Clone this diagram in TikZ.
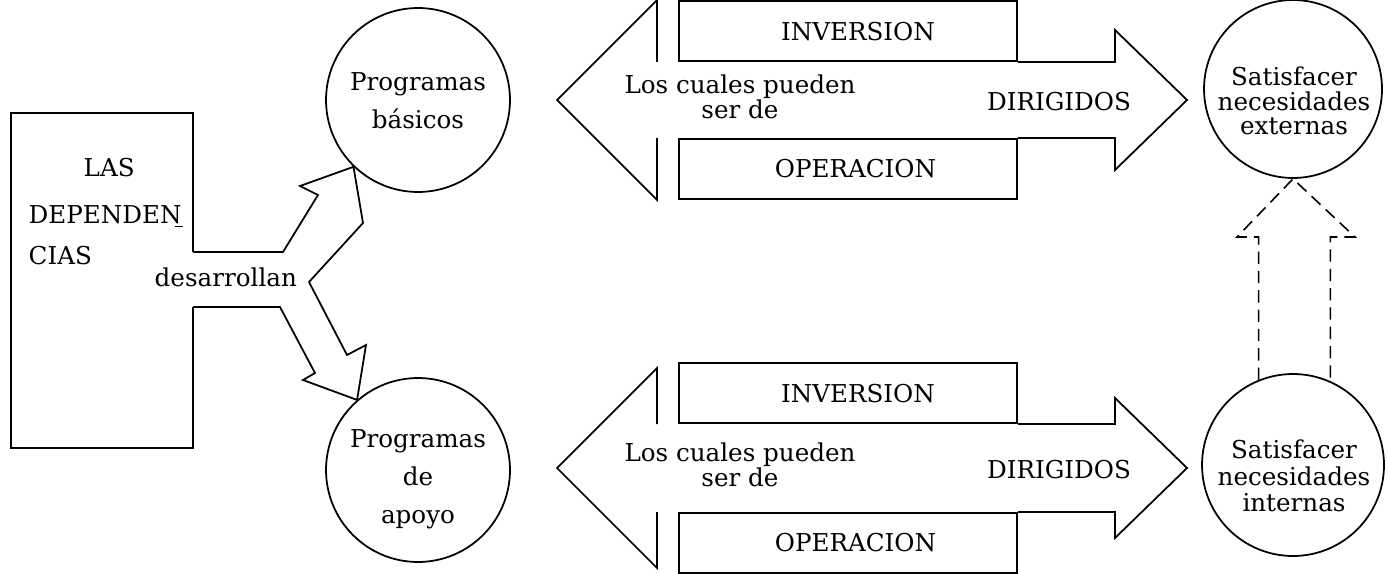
\documentclass[tikz,border=0pt]{standalone}
\usepackage{fontspec}
\setmainfont{DejaVu Serif}
\usetikzlibrary{positioning}

\begin{document}
\begin{tikzpicture}[x=0.02cm,y=-0.02cm,line width=1pt,
	every node/.style={font=\fontsize{14}{16}\selectfont},
	circ/.style={draw,circle,inner sep=0pt},
	rotulo/.style={align=center,font=\fontsize{14}{21.5}\selectfont},
	satis/.style={align=center,font=\fontsize{14}{13.8}\selectfont},
	caja/.style={draw,rectangle,minimum width=6.76cm,minimum height=1.2cm,inner sep=0pt},
	guion/.style={line width=0.9pt,dash pattern=on 7pt off 4pt}]
\useasboundingbox (0,0) rectangle (1388,574);
% las dependencias
\draw (193,252) -- (193,113) -- (11,113) -- (11,448) -- (193,448) -- (193,307);
\node[anchor=base west] (las) at (77,176) {LAS};
\node[anchor=base west] (dep) at (22,223) {DEPENDEN\llap{\rule[-2.5pt]{4.5pt}{0.8pt}\kern-1pt}};
\node[anchor=base west] (cias) at (22,264) {CIAS};
\node[anchor=base west] (des) at (148,286) {desarrollan};
\node[circ,minimum size=3.68cm] (bas) at (418,100) {};
\node[circ,minimum size=3.68cm] (apo) at (418,470) {};
\node[rotulo] (tbas) at (418,101) {Programas\\básicos};
\node[rotulo] (tapo) at (418,479) {Programas\\de\\apoyo};
\draw (193,252) -- (283,252) -- (318,195) -- (300,186) -- (bas.226) -- (363,223) -- (309,282)
	-- (347,355) -- (366,345) -- (apo.131) -- (303,380) -- (315,373) -- (280,307) -- (193,307);
\node[circ,minimum size=3.56cm] (ext) at (1293,89) {};
\node[circ,minimum size=3.64cm] (int) at (1293,465) {};
\node[satis] (text) at (1294,101) {Satisfacer\\necesidades\\externas};
\node[satis,font=\fontsize{14}{15}\selectfont] (tint) at (1294,476) {Satisfacer\\necesidades\\internas};
% flechas dobles
\foreach \y/\h/\n in {100/38/1,468/44/2} {
	\node[caja,anchor=south] (inv\n) at (848,\y-\h) {\hspace*{0.4cm}INVERSION};
	\node[caja,anchor=north] (ope\n) at (848,\y+\h) {\hspace*{0.3cm}OPERACION};
	\draw (657,\y-\h) -- (657,\y-100) -- (557,\y) -- (657,\y+100) -- (657,\y+\h);
	\draw (inv\n.south east) -- (1115,\y-\h) -- (1115,\y-70) -- (1187,\y) -- (1115,\y+70)
		-- (1115,\y+\h) -- (ope\n.north east);
	\node[align=center,font=\fontsize{14}{12.5}\selectfont] (cual\n) at (740,\y-3) {Los cuales pueden\\ser de};
	\node (dir\n) at (1059,\y+2) {DIRIGIDOS};}
\draw[guion] (int.112) |- (1237,237) -- (ext.south) -- (1355,237) -| (int.66);
\end{tikzpicture}
\end{document}
